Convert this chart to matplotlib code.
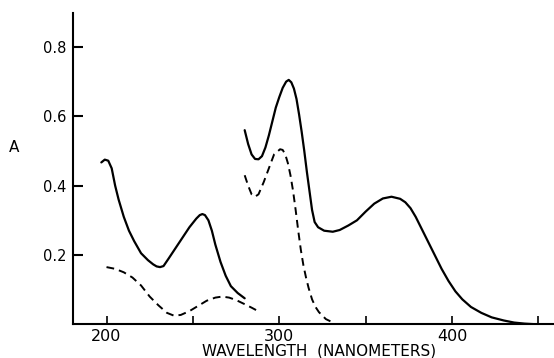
import matplotlib
matplotlib.use("Agg")
import matplotlib.pyplot as plt

# Solid curve, short-wavelength band
solid1_nm = [197, 199, 201, 203, 205, 207, 210, 213, 216, 220, 224, 227, 229, 231, 233,
             236, 240, 244, 248, 252, 254, 255.5, 257, 259, 261, 263, 266, 269, 272, 276, 280]
solid1_A = [0.467, 0.475, 0.472, 0.45, 0.40, 0.36, 0.31, 0.27, 0.24, 0.205, 0.185,
            0.173, 0.167, 0.165, 0.168, 0.19, 0.22, 0.25, 0.28, 0.305, 0.315, 0.318,
            0.315, 0.30, 0.27, 0.23, 0.18, 0.14, 0.11, 0.09, 0.075]

# Dashed curve, short-wavelength band
dash1_nm = [200, 205, 210, 215, 220, 225, 230, 235, 239, 243, 248, 253, 258, 263,
            267, 271, 275, 280, 284, 287]
dash1_A = [0.165, 0.16, 0.15, 0.135, 0.112, 0.08, 0.055, 0.033, 0.025, 0.027, 0.038,
           0.053, 0.068, 0.077, 0.08, 0.077, 0.07, 0.058, 0.048, 0.04]

# Solid curve, long-wavelength band
solid2_nm = [280, 282, 284, 286, 288, 290, 292, 294, 296, 298, 300, 302, 304, 305.5,
             307, 308.5, 310, 311.5, 313, 314.5, 316, 317.5, 319, 320.5, 322.5, 326, 331,
             335, 340, 345, 350, 355, 360, 365, 370, 373, 376, 379, 382, 386, 390, 394,
             398, 402, 406, 411, 417, 423, 430, 436, 442, 449]
solid2_A = [0.56, 0.52, 0.49, 0.477, 0.476, 0.485, 0.51, 0.545, 0.585, 0.625, 0.655,
            0.682, 0.70, 0.705, 0.698, 0.68, 0.65, 0.605, 0.555, 0.50, 0.44, 0.385,
            0.33, 0.295, 0.28, 0.27, 0.267, 0.272, 0.285, 0.30, 0.325, 0.348, 0.363,
            0.368, 0.362, 0.352, 0.335, 0.31, 0.28, 0.24, 0.20, 0.16, 0.125, 0.095,
            0.072, 0.05, 0.033, 0.02, 0.011, 0.005, 0.002, 0.0]

# Dashed curve, long-wavelength band
dash2_nm = [280, 282, 284, 286, 288, 291, 294, 297, 300.5, 302, 303.5, 305, 306.5, 308,
            309.5, 311, 312.5, 314, 315.5, 317, 319, 321, 323, 327, 332]
dash2_A = [0.43, 0.40, 0.375, 0.368, 0.375, 0.41, 0.45, 0.49, 0.505, 0.503, 0.49, 0.465,
           0.43, 0.385, 0.33, 0.27, 0.215, 0.17, 0.135, 0.105, 0.072, 0.05, 0.035,
           0.015, 0.003]

x_ticks = [200, 250, 300, 350, 400, 450]
x_tick_labels = ["200", "", "300", "", "400", ""]
y_ticks = [0.2, 0.4, 0.6, 0.8]
y_tick_labels = ["0.2", "0.4", "0.6", "0.8"]

W, H = 554, 358
fig = plt.figure(figsize=(W / 100, H / 100), dpi=100)
ax = fig.add_axes([73 / W, (H - 324.3) / H, (553 - 73) / W, (324.3 - 13) / H])

lw = 1.6
ax.plot(solid1_nm, solid1_A, color="black", lw=lw, solid_capstyle="round")
ax.plot(solid2_nm, solid2_A, color="black", lw=lw, solid_capstyle="round")
ax.plot(dash1_nm, dash1_A, color="black", lw=1.4, dashes=(4, 2.6))
ax.plot(dash2_nm, dash2_A, color="black", lw=1.4, dashes=(4, 2.6))

ax.set_xlim(180.6, 458.5)
ax.set_ylim(0, 0.898)

for s in ["top", "right"]:
    ax.spines[s].set_visible(False)
for s in ["left", "bottom"]:
    ax.spines[s].set_linewidth(1.5)

ax.set_xticks(x_ticks)
ax.set_xticklabels(x_tick_labels)
ax.set_yticks(y_ticks)
ax.set_yticklabels(y_tick_labels)
ax.tick_params(axis="x", direction="in", length=6, width=1.2, pad=3.5, labelsize=11.5)
ax.tick_params(axis="y", direction="in", length=7, width=1.5, pad=5, labelsize=10.5)

fig.text(14 / W, 1 - 148 / H, "A", ha="center", va="center", fontsize=11)
fig.text(319 / W, 1 - 351 / H, "WAVELENGTH  (NANOMETERS)", ha="center", va="center",
         fontsize=11)

fig.savefig("out.png", dpi=100, facecolor="white")
